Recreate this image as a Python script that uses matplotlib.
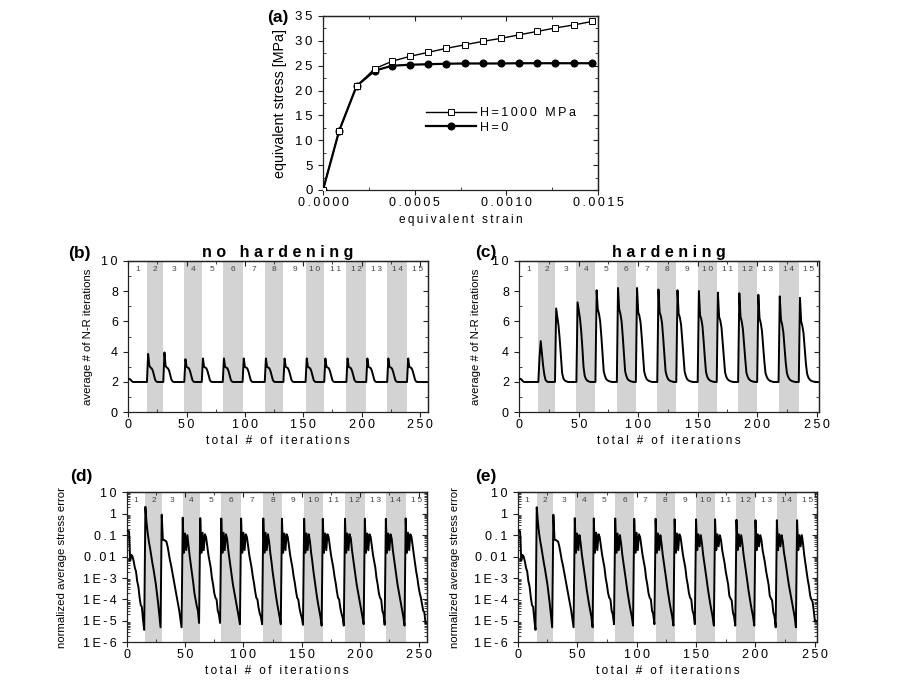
import numpy as np
import matplotlib
matplotlib.use("Agg")
import matplotlib.pyplot as plt
from matplotlib.ticker import (MultipleLocator, FixedLocator, FuncFormatter, LogLocator,
                               NullFormatter)

plt.rcParams['font.family'] = ['Liberation Sans', 'DejaVu Sans']

# ---------------- (a) stress-strain ----------------
strain = [0, 0.000088, 0.000183, 0.000282, 0.000377, 0.000476, 0.000575, 0.000673,
          0.000773, 0.000872, 0.000970, 0.001068, 0.001169, 0.001268, 0.001368, 0.001467]
stress_hard = [0, 11.9, 20.9, 24.4, 25.9, 26.9, 27.7, 28.5, 29.2, 29.9, 30.5, 31.2,
               31.9, 32.6, 33.2, 33.9]
stress_perfect = [0, 11.9, 20.9, 24.0, 25.0, 25.2, 25.3, 25.4, 25.45, 25.45, 25.45,
                  25.5, 25.5, 25.5, 25.5, 25.5]

# ---------------- load step boundaries (total iteration count) ----------------
steps_nohard = [0, 16, 30, 48, 63, 81, 98, 117, 133, 152, 168, 187, 204, 222, 239, 257]
steps_hard = [0, 16, 30, 48, 64, 82, 98, 116, 132, 150, 166, 184, 200, 218, 235, 252]

# ---------------- (b) avg N-R iterations, no hardening (rest of each step at 2) ----------------
nr_nohard = [
    [2.2, 2.2, 2.15, 2.05],
    [2.0, 3.85, 3.1, 2.95, 2.9, 2.75, 2.45, 2.15, 2.03],
    [2.0, 3.95, 3.05, 2.95, 2.9, 2.75, 2.45, 2.15, 2.03],
    [2.0, 3.5, 3.0, 2.95, 2.9, 2.7, 2.4, 2.12, 2.02],
    [2.0, 3.55, 3.0, 2.95, 2.9, 2.7, 2.4, 2.12, 2.02],
    [2.0, 3.55, 3.0, 2.95, 2.9, 2.7, 2.4, 2.12, 2.02],
    [2.0, 3.55, 3.0, 2.95, 2.9, 2.7, 2.4, 2.12, 2.02],
    [2.0, 3.55, 3.0, 2.95, 2.9, 2.7, 2.4, 2.12, 2.02],
    [2.0, 3.55, 3.0, 2.95, 2.9, 2.7, 2.4, 2.12, 2.02],
    [2.0, 3.55, 3.0, 2.95, 2.9, 2.7, 2.4, 2.12, 2.02],
    [2.0, 3.55, 3.0, 2.95, 2.9, 2.7, 2.4, 2.12, 2.02],
    [2.0, 3.55, 3.0, 2.95, 2.9, 2.7, 2.4, 2.12, 2.02],
    [2.0, 3.55, 3.0, 2.95, 2.9, 2.7, 2.4, 2.12, 2.02],
    [2.0, 3.55, 3.0, 2.95, 2.9, 2.7, 2.4, 2.12, 2.02],
    [2.0, 3.55, 3.0, 2.95, 2.9, 2.7, 2.4, 2.12, 2.02],
]

# ---------------- (c) avg N-R iterations, hardening ----------------
nr_hard = [
    [2.2, 2.2, 2.15, 2.05],
    [2.0, 3.6, 4.7, 3.9, 3.1, 2.5, 2.15, 2.05],
    [2.0, 6.85, 6.3, 5.7, 4.8, 3.7, 2.6, 2.25, 2.12, 2.06, 2.03],
    [2.0, 7.25, 6.7, 6.2, 5.4, 4.3, 3.0, 2.4, 2.2, 2.1, 2.05, 2.02],
    [2.0, 8.05, 6.8, 6.5, 6.0, 5.0, 3.9, 2.7, 2.4, 2.2, 2.12, 2.07, 2.04, 2.02],
    [2.0, 8.2, 6.8, 6.5, 6.0, 5.0, 3.9, 2.7, 2.4, 2.2, 2.12, 2.07, 2.04, 2.02],
    [2.0, 8.2, 6.6, 6.35, 5.9, 4.9, 3.8, 2.7, 2.4, 2.2, 2.12, 2.07, 2.04, 2.02],
    [2.0, 8.1, 6.6, 6.35, 5.9, 4.9, 3.8, 2.7, 2.4, 2.2, 2.12, 2.07, 2.04, 2.02],
    [2.0, 8.05, 6.5, 6.25, 5.8, 4.8, 3.7, 2.7, 2.4, 2.2, 2.12, 2.07, 2.04, 2.02],
    [2.0, 8.0, 6.4, 6.15, 5.7, 4.7, 3.6, 2.65, 2.35, 2.2, 2.12, 2.07, 2.04, 2.02],
    [2.0, 7.9, 6.3, 6.05, 5.6, 4.6, 3.6, 2.65, 2.35, 2.2, 2.12, 2.07, 2.04, 2.02],
    [2.0, 7.85, 6.3, 6.0, 5.5, 4.5, 3.5, 2.6, 2.35, 2.2, 2.12, 2.07, 2.04, 2.02],
    [2.0, 7.75, 6.2, 5.9, 5.4, 4.4, 3.4, 2.6, 2.35, 2.2, 2.12, 2.07, 2.04, 2.02],
    [2.0, 7.65, 6.1, 5.8, 5.3, 4.3, 3.3, 2.6, 2.35, 2.2, 2.12, 2.07, 2.04, 2.02],
    [2.0, 7.55, 6.0, 5.7, 5.2, 4.2, 3.2, 2.55, 2.3, 2.18, 2.1, 2.06, 2.03, 2.02],
]

# ---------------- (d) normalized stress error, no hardening ----------------
err_nohard = [
    [0.17, 0.16, 0.15, 0.0065, 0.012, 0.01, 0.006, 0.003, 0.002, 7e-4, 4e-4, 1.3e-4, 5.5e-5, 4.5e-5, 1.1e-5, 3.8e-6],
    [2.1, 0.4, 0.12, 0.05, 0.025, 0.011, 0.005, 0.0025, 0.0011, 5e-4, 1.8e-4, 6e-5, 1.8e-5, 5e-6],
    [0.9, 0.06, 0.06, 0.055, 0.05, 0.03, 0.015, 0.007, 0.004, 0.002, 0.001, 5e-4, 2.5e-4, 1.2e-4, 6e-5, 3e-5, 1.2e-5, 5e-6],
    [0.65, 0.015, 0.12, 0.02, 0.1, 0.03, 0.01, 0.004, 0.0015, 6e-4, 2e-4, 1e-4, 5e-5, 3e-5, 8e-6],
    [0.62, 0.015, 0.13, 0.02, 0.11, 0.08, 0.03, 0.012, 0.006, 0.003, 0.001, 5e-4, 2e-4, 1.2e-4, 1e-4, 3e-5, 2e-5, 8e-6],
    [0.6, 0.015, 0.13, 0.02, 0.11, 0.07, 0.02, 0.008, 0.003, 0.0012, 5e-4, 2.5e-4, 1.2e-4, 6e-5, 3e-5, 1.5e-5, 7e-6],
    [0.6, 0.015, 0.13, 0.02, 0.11, 0.08, 0.03, 0.012, 0.006, 0.003, 0.0012, 6e-4, 2.5e-4, 1.2e-4, 1e-4, 4e-5, 2.2e-5, 1.5e-5, 7e-6],
    [0.6, 0.015, 0.13, 0.02, 0.11, 0.05, 0.015, 0.006, 0.002, 8e-4, 3e-4, 1.3e-4, 6e-5, 3e-5, 1.5e-5, 7e-6],
    [0.58, 0.015, 0.12, 0.02, 0.11, 0.08, 0.03, 0.012, 0.006, 0.003, 0.0012, 6e-4, 2.5e-4, 1.2e-4, 1e-4, 4e-5, 2.2e-5, 1.4e-5, 6.5e-6],
    [0.58, 0.015, 0.12, 0.02, 0.11, 0.05, 0.015, 0.006, 0.002, 8e-4, 3e-4, 1.3e-4, 6e-5, 3e-5, 1.5e-5, 6e-6],
    [0.58, 0.015, 0.12, 0.02, 0.11, 0.08, 0.03, 0.012, 0.006, 0.003, 0.0012, 6e-4, 2.5e-4, 1.2e-4, 1e-4, 4e-5, 2.2e-5, 1.4e-5, 6e-6],
    [0.58, 0.015, 0.12, 0.02, 0.11, 0.07, 0.02, 0.008, 0.003, 0.0012, 5e-4, 2.5e-4, 1.2e-4, 6e-5, 3e-5, 1.5e-5, 7e-6],
    [0.58, 0.015, 0.12, 0.02, 0.11, 0.08, 0.03, 0.012, 0.006, 0.003, 0.001, 5e-4, 2e-4, 1.2e-4, 1e-4, 3e-5, 2e-5, 6.5e-6],
    [0.58, 0.015, 0.12, 0.02, 0.11, 0.07, 0.02, 0.008, 0.003, 0.0012, 5e-4, 2.5e-4, 1.2e-4, 6e-5, 3e-5, 1.5e-5, 6e-6],
    [0.6, 0.015, 0.13, 0.02, 0.11, 0.08, 0.03, 0.012, 0.005, 0.002, 0.001, 4e-4, 2e-4, 1.2e-4, 6e-5, 3e-5, 2.5e-5, 8e-6],
]

# ---------------- (e) normalized stress error, hardening ----------------
err_hard = [
    [0.17, 0.16, 0.15, 0.0065, 0.012, 0.01, 0.006, 0.003, 0.002, 7e-4, 4e-4, 1.3e-4, 5.5e-5, 4.5e-5, 1.1e-5, 3.8e-6],
    [2.0, 0.4, 0.12, 0.05, 0.025, 0.011, 0.005, 0.0025, 0.0011, 5e-4, 1.8e-4, 6e-5, 1.8e-5, 5e-6],
    [0.9, 0.06, 0.06, 0.055, 0.05, 0.03, 0.015, 0.007, 0.004, 0.002, 0.001, 5e-4, 2.5e-4, 1.2e-4, 6e-5, 3e-5, 1.2e-5, 5e-6],
    [0.62, 0.015, 0.12, 0.02, 0.1, 0.04, 0.012, 0.005, 0.002, 8e-4, 3e-4, 1.3e-4, 6e-5, 3e-5, 1.5e-5, 5e-6],
    [0.6, 0.015, 0.13, 0.02, 0.11, 0.08, 0.03, 0.012, 0.006, 0.003, 0.001, 5e-4, 2e-4, 1.2e-4, 1e-4, 3e-5, 2e-5, 7e-6],
    [0.6, 0.015, 0.12, 0.02, 0.1, 0.04, 0.012, 0.005, 0.002, 8e-4, 3e-4, 1.3e-4, 6e-5, 3e-5, 1.5e-5, 6e-6],
    [0.58, 0.015, 0.13, 0.02, 0.11, 0.08, 0.03, 0.012, 0.006, 0.003, 0.001, 5e-4, 2e-4, 1.2e-4, 1e-4, 3e-5, 2e-5, 7e-6],
    [0.58, 0.015, 0.12, 0.02, 0.1, 0.04, 0.012, 0.005, 0.002, 8e-4, 3e-4, 1.3e-4, 6e-5, 3e-5, 1.5e-5, 6e-6],
    [0.55, 0.015, 0.12, 0.02, 0.11, 0.08, 0.03, 0.012, 0.006, 0.003, 0.001, 5e-4, 2e-4, 1.2e-4, 1e-4, 3e-5, 2e-5, 7e-6],
    [0.55, 0.02, 0.11, 0.03, 0.1, 0.04, 0.012, 0.005, 0.002, 8e-4, 3e-4, 1.3e-4, 6e-5, 3e-5, 1.5e-5, 6e-6],
    [0.55, 0.02, 0.11, 0.03, 0.1, 0.06, 0.02, 0.01, 0.005, 0.002, 1e-3, 5e-4, 1.5e-4, 1.1e-4, 9e-5, 2.5e-5, 1.6e-5, 6e-6],
    [0.52, 0.02, 0.11, 0.03, 0.1, 0.04, 0.012, 0.005, 0.002, 8e-4, 3e-4, 1.3e-4, 6e-5, 3e-5, 1.5e-5, 6e-6],
    [0.5, 0.02, 0.11, 0.03, 0.1, 0.06, 0.02, 0.01, 0.005, 0.002, 1e-3, 5e-4, 1.5e-4, 1.1e-4, 9e-5, 2.5e-5, 1.6e-5, 5e-6],
    [0.5, 0.02, 0.11, 0.03, 0.1, 0.05, 0.015, 0.007, 0.003, 0.0012, 5e-4, 2.5e-4, 1.2e-4, 6e-5, 3e-5, 1.5e-5, 5e-6],
    [0.5, 0.02, 0.1, 0.03, 0.1, 0.04, 0.012, 0.005, 0.002, 8e-4, 4e-4, 1.5e-4, 1e-4, 8e-5, 3e-5, 1e-5, 1e-5],
]

log_ticks = [1e-6, 1e-5, 1e-4, 1e-3, 1e-2, 1e-1, 1, 10]
log_labels = ['1E-6', '1E-5', '1E-4', '1E-3', '0.01', '0.1', '1', '10']

BAND = '#d3d3d3'
THIN = '\u2009'
TICK_FS = 9


def spaced(s, gap=THIN):
    # letter-tracked text as in the printed figure
    return (gap + ' ' + gap).join(gap.join(w) for w in s.split(' '))


def build(starts, chunks, fill=None):
    xs, ys = [], []
    for i, vals in enumerate(chunks):
        n = starts[i + 1] - starts[i]
        vals = list(vals)
        if fill is not None:
            vals = vals + [fill] * (n - len(vals))
        xs.extend(starts[i] + np.arange(len(vals)))
        ys.extend(vals)
    return np.array(xs), np.array(ys)


def style_axis(ax, xloc, yloc):
    # xloc / yloc: functions returning (major, minor) locators
    for sp in ax.spines.values():
        sp.set_linewidth(0.9)
        sp.set_color('#222222')
    ax.tick_params(which='both', top=False, right=False, labelsize=TICK_FS, color='#222222')
    ax.tick_params(which='major', direction='out', length=3.5, width=0.8)
    ax.tick_params(which='minor', direction='in', length=2.2, width=0.6)
    ax.tick_params(axis='y', which='major', pad=4)
    ax.tick_params(axis='x', which='major', pad=1.5)
    # inward ticks on the top and right frame
    top = ax.secondary_xaxis('top')
    right = ax.secondary_yaxis('right')
    for sec, axis, loc in [(top, top.xaxis, xloc), (right, right.yaxis, yloc)]:
        mj, mn = loc()
        axis.set_major_locator(mj)
        axis.set_minor_locator(mn)
        axis.set_major_formatter(NullFormatter())
        axis.set_minor_formatter(NullFormatter())
        sec.tick_params(which='major', direction='in', length=3.5, width=0.8, color='#222222')
        sec.tick_params(which='minor', direction='in', length=2.2, width=0.6, color='#222222')
        for sp in sec.spines.values():
            sp.set_linewidth(0.9)
            sp.set_color('#222222')


def log_fmt(v, p):
    i = int(np.argmin([abs(np.log10(t) - np.log10(v)) for t in log_ticks]))
    return spaced(log_labels[i])


def step_panel(ax, starts, x, y, log=False, ylabel='', ylab_x=-0.12):
    for i in range(1, 15, 2):
        ax.axvspan(starts[i], starts[i + 1], color=BAND, lw=0, zorder=0)
    ax.plot(x, y, color='black', lw=1.4, zorder=3)
    ax.set_xlim(0, starts[-1])
    ylab_y = 4.2 if log else 9.45
    for i in range(15):
        ax.text((starts[i] + starts[i + 1]) / 2, ylab_y, spaced(str(i + 1)),
                ha='center', va='center', fontsize=6, color='#444444', zorder=4)
    xloc = lambda: (MultipleLocator(50), MultipleLocator(25))
    if log:
        ax.set_yscale('log')
        ax.set_ylim(1e-6, 10)
        yloc = lambda: (FixedLocator(log_ticks),
                        LogLocator(base=10, subs=np.arange(2, 10), numticks=20))
        ax.yaxis.set_major_formatter(FuncFormatter(log_fmt))
        ax.yaxis.set_minor_formatter(NullFormatter())
    else:
        ax.set_ylim(0, 10)
        yloc = lambda: (MultipleLocator(2), MultipleLocator(1))
        ax.yaxis.set_major_formatter(FuncFormatter(lambda v, p: spaced('%d' % round(v))))
    mj, mn = xloc()
    ax.xaxis.set_major_locator(mj)
    ax.xaxis.set_minor_locator(mn)
    mj, mn = yloc()
    ax.yaxis.set_major_locator(mj)
    ax.yaxis.set_minor_locator(mn)
    ax.xaxis.set_major_formatter(FuncFormatter(lambda v, p: spaced('%d' % round(v))))
    ax.set_xlabel(spaced('total # of iterations'), fontsize=8.5, labelpad=3)
    ax.set_ylabel(ylabel, fontsize=8.2)
    ax.yaxis.set_label_coords(ylab_x, 0.5)
    style_axis(ax, xloc, yloc)


fig = plt.figure(figsize=(9.15, 6.9), dpi=100)
W, H = 915.0, 690.0


def box(x0, y0, x1, y1):
    return [x0 / W, 1 - y1 / H, (x1 - x0) / W, (y1 - y0) / H]


# (a)
ax_a = fig.add_axes(box(323, 16, 598, 190))
ax_a.plot(strain, stress_perfect, color='black', lw=1.6, marker='o', ms=4.8,
          mfc='black', mec='black', label='H=0', zorder=3)
ax_a.plot(strain, stress_hard, color='black', lw=1.0, marker='s', ms=3.8,
          mfc='white', mec='black', mew=0.7, label='H=1000 MPa', zorder=4)
ax_a.set_xlim(0, 0.0015)
ax_a.set_ylim(0, 35)
xloc_a = lambda: (MultipleLocator(0.0005), MultipleLocator(0.00025))
yloc_a = lambda: (MultipleLocator(5), MultipleLocator(2.5))
mj, mn = xloc_a()
ax_a.xaxis.set_major_locator(mj)
ax_a.xaxis.set_minor_locator(mn)
mj, mn = yloc_a()
ax_a.yaxis.set_major_locator(mj)
ax_a.yaxis.set_minor_locator(mn)
ax_a.xaxis.set_major_formatter(FuncFormatter(lambda v, p: spaced('%.4f' % v)))
ax_a.yaxis.set_major_formatter(FuncFormatter(lambda v, p: spaced('%d' % round(v))))
ax_a.set_xlabel(spaced('equivalent strain'), fontsize=8.5, labelpad=4)
ax_a.set_ylabel('equivalent stress [MPa]', fontsize=10.3)
ax_a.yaxis.set_label_coords(-0.131, 0.5)
style_axis(ax_a, xloc_a, yloc_a)
ax_a.tick_params(axis='y', labelsize=9.5)
handles, labels = ax_a.get_legend_handles_labels()
leg = ax_a.legend(handles[::-1], [spaced(l) for l in labels[::-1]], loc='upper left',
                  bbox_to_anchor=(0.375, 0.475), frameon=False, fontsize=9,
                  handlelength=4.0, handletextpad=0.3, labelspacing=0.2,
                  borderpad=0, borderaxespad=0, numpoints=1)

# (b) - (e)
xb, yb = build(steps_nohard, nr_nohard, fill=2.0)
xc, yc = build(steps_hard, nr_hard, fill=2.0)
xd, yd = build(steps_nohard, err_nohard)
xe, ye = build(steps_hard, err_hard)

ax_b = fig.add_axes(box(128.3, 260.7, 428, 412.3))
step_panel(ax_b, steps_nohard, xb, yb, ylabel='average # of N-R iterations', ylab_x=-0.118)
ax_b.set_title(spaced('no hardening', ' '), fontsize=11.5, fontweight='bold', pad=3)

ax_c = fig.add_axes(box(519.3, 260.7, 819, 412.3))
step_panel(ax_c, steps_hard, xc, yc, ylabel='average # of N-R iterations', ylab_x=-0.128)
ax_c.set_title(spaced('hardening', ' '), fontsize=11.5, fontweight='bold', pad=3)

ax_d = fig.add_axes(box(126.7, 492.3, 426.7, 642.3))
step_panel(ax_d, steps_nohard, xd, yd, log=True, ylabel='normalized average stress error', ylab_x=-0.199)

ax_e = fig.add_axes(box(517.7, 492.3, 817.3, 642.3))
step_panel(ax_e, steps_hard, xe, ye, log=True, ylabel='normalized average stress error', ylab_x=-0.192)

# panel letters
for lab, px, py in [('(a)', 267, 10), ('(b)', 68, 246), ('(c)', 475, 245),
                    ('(d)', 70, 469), ('(e)', 475, 469)]:
    fig.text(px / W, 1 - py / H, lab, fontsize=12.5, fontweight='bold', va='top', ha='left')

fig.savefig('out.png', dpi=100)
